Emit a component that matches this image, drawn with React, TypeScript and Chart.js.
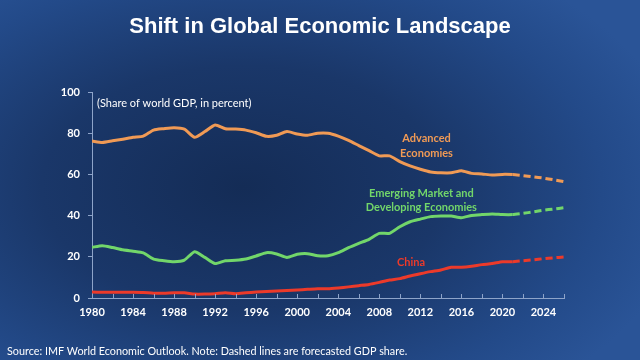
import React, { useEffect, useRef } from "react";
import { Chart, registerables } from "chart.js";

Chart.register(...registerables);

const years: number[] = [
  1980, 1981, 1982, 1983, 1984, 1985, 1986, 1987, 1988, 1989,
  1990, 1991, 1992, 1993, 1994, 1995, 1996, 1997, 1998, 1999,
  2000, 2001, 2002, 2003, 2004, 2005, 2006, 2007, 2008, 2009,
  2010, 2011, 2012, 2013, 2014, 2015, 2016, 2017, 2018, 2019,
  2020, 2021, 2022, 2023, 2024, 2025, 2026,
];

const advanced: number[] = [
  76.2, 75.5, 76.3, 77.1, 78.0, 78.6, 81.5, 82.2, 82.7, 82.0,
  78.0, 80.8, 84.0, 82.2, 82.0, 81.5, 80.2, 78.5, 79.0, 80.8,
  79.6, 79.0, 80.0, 80.0, 78.6, 76.5, 74.0, 71.5, 69.0, 69.0,
  66.2, 64.1, 62.5, 61.2, 60.8, 60.8, 61.8, 60.5, 60.2, 59.7,
  60.0, 59.9, 59.4, 58.8, 58.2, 57.4, 56.5,
];

const emerging: number[] = [
  24.6, 25.4, 24.5, 23.4, 22.7, 21.9, 18.9, 18.1, 17.6, 18.4,
  22.5, 19.7, 16.7, 18.1, 18.3, 18.9, 20.4, 22.0, 21.4, 19.7,
  21.2, 21.5, 20.5, 20.5, 22.0, 24.4, 26.5, 28.5, 31.4, 31.4,
  34.6, 37.0, 38.3, 39.5, 39.8, 39.8, 39.0, 40.1, 40.5, 40.8,
  40.5, 40.5, 41.1, 41.8, 42.6, 43.2, 43.8,
];

const china: number[] = [
  2.9, 2.8, 2.8, 2.8, 2.8, 2.7, 2.3, 2.3, 2.5, 2.5,
  1.9, 1.9, 2.1, 2.6, 2.1, 2.5, 2.9, 3.2, 3.4, 3.7,
  3.9, 4.2, 4.5, 4.5, 4.9, 5.4, 6.0, 6.6, 7.6, 8.7,
  9.4, 10.7, 11.8, 12.8, 13.6, 14.9, 14.9, 15.4, 16.2, 16.7,
  17.6, 17.6, 18.1, 18.5, 19.1, 19.5, 19.9,
];

const forecastStartYear = 2021;
const yTicks: number[] = [0, 20, 40, 60, 80, 100];
const xTickStep = 4;

const TITLE = "Shift in Global Economic Landscape";
const UNIT_NOTE = "(Share of world GDP, in percent)";
const SOURCE = "Source: IMF World Economic Outlook. Note: Dashed lines are forecasted GDP share.";

const ORANGE = "#f09a55";
const GREEN = "#72d66a";
const RED = "#ec3a2a";
const AXIS = "#8ea4c9";

// series labels anchored in data coordinates: [year, value, text, color]
const seriesLabels: [number, number, string, string][] = [
  [2012.6, 77.6, "Advanced", ORANGE],
  [2012.6, 70.4, "Economies", ORANGE],
  [2012.1, 50.8, "Emerging Market and", GREEN],
  [2012.1, 44.1, "Developing Economies", GREEN],
  [2011.1, 17.2, "China", RED],
];

const toPoints = (vals: number[]) => vals.map((v, i) => ({ x: years[i], y: v }));

const textPlugin = {
  id: "texts",
  afterDraw(chart: any) {
    const { ctx, scales, chartArea } = chart;
    const xs = scales.x;
    const ys = scales.y;
    ctx.save();
    // x-axis inward tick marks every 2 years
    ctx.strokeStyle = AXIS;
    ctx.lineWidth = 1;
    for (let yr = years[0]; yr <= years[years.length - 1]; yr += 2) {
      const px = Math.round(xs.getPixelForValue(yr)) + 0.5;
      ctx.beginPath();
      ctx.moveTo(px, chartArea.bottom);
      ctx.lineTo(px, chartArea.bottom - 4);
      ctx.stroke();
    }
    // title
    ctx.fillStyle = "#ffffff";
    ctx.textAlign = "center";
    ctx.textBaseline = "middle";
    ctx.font = "bold 22px 'Liberation Sans', Arial, sans-serif";
    ctx.fillText(TITLE, 320, 27);
    // unit note
    ctx.textAlign = "left";
    ctx.font = "11px Lato, sans-serif";
    ctx.fillText(UNIT_NOTE, chartArea.left + 5, chartArea.top + 11);
    // series labels
    ctx.textAlign = "center";
    ctx.font = "bold 11px Lato, sans-serif";
    for (const [yr, v, t, c] of seriesLabels) {
      ctx.fillStyle = c;
      ctx.fillText(t, xs.getPixelForValue(yr), ys.getPixelForValue(v));
    }
    // source
    ctx.fillStyle = "#ffffff";
    ctx.textAlign = "left";
    ctx.font = "10.8px Lato, sans-serif";
    ctx.fillText(SOURCE, 7, 352);
    ctx.restore();
  },
};

export default function App() {
  const ref = useRef<HTMLCanvasElement>(null);
  useEffect(() => {
    if (!ref.current) return;
    const dashSeg = {
      borderDash: (c: any) => (c.p0.parsed.x >= forecastStartYear ? [7, 4] : undefined),
    };
    const mk = (label: string, vals: number[], color: string) => ({
      label,
      data: toPoints(vals),
      borderColor: color,
      backgroundColor: color,
      borderWidth: 3,
      pointRadius: 0,
      tension: 0.2,
      fill: false,
      segment: dashSeg,
    });
    const chart = new Chart(ref.current, {
      type: "line",
      data: {
        datasets: [
          mk("Advanced Economies", advanced, ORANGE),
          mk("Emerging Market and Developing Economies", emerging, GREEN),
          mk("China", china, RED),
        ],
      },
      options: {
        responsive: false,
        animation: false,
        layout: { padding: { left: 0, right: 76, top: 92, bottom: 0 } },
        plugins: { legend: { display: false }, tooltip: { enabled: false }, title: { display: false } },
        scales: {
          x: {
            type: "linear",
            min: years[0],
            max: years[years.length - 1],
            grid: { display: false, drawTicks: false },
            border: { display: true, color: AXIS, width: 1 },
            afterFit: (s: any) => { s.height = 62; },
            afterBuildTicks: (s: any) => {
              const t: any[] = [];
              for (let yr = years[0]; yr <= years[years.length - 1]; yr += xTickStep) t.push({ value: yr });
              s.ticks = t;
            },
            ticks: {
              color: "#ffffff",
              font: { family: "Lato, sans-serif", size: 11, weight: "bold" },
              padding: 8,
              maxRotation: 0,
              autoSkip: false,
              callback: (v: any) => String(v),
            },
          },
          y: {
            min: 0,
            max: 100,
            afterFit: (s: any) => { s.width = 92; },
            afterBuildTicks: (s: any) => { s.ticks = yTicks.map((v) => ({ value: v })); },
            grid: { drawOnChartArea: false, drawTicks: true, tickLength: 4, color: AXIS },
            border: { display: true, color: AXIS, width: 1 },
            ticks: {
              color: "#ffffff",
              font: { family: "Lato, sans-serif", size: 11, weight: "bold" },
              padding: 8,
            },
          },
        },
      },
      plugins: [textPlugin],
    });
    return () => chart.destroy();
  }, []);
  return (
    <div
      style={{
        position: "fixed",
        left: 0,
        top: 0,
        width: 640,
        height: 360,
        background:
          "radial-gradient(ellipse 70% 75% at 38% 52%, #142c56 0%, #1a3769 45%, #234a89 80%, #2a5497 100%)",
      }}
    >
      <canvas ref={ref} width={640} height={360} style={{ display: "block" }} />
    </div>
  );
}
